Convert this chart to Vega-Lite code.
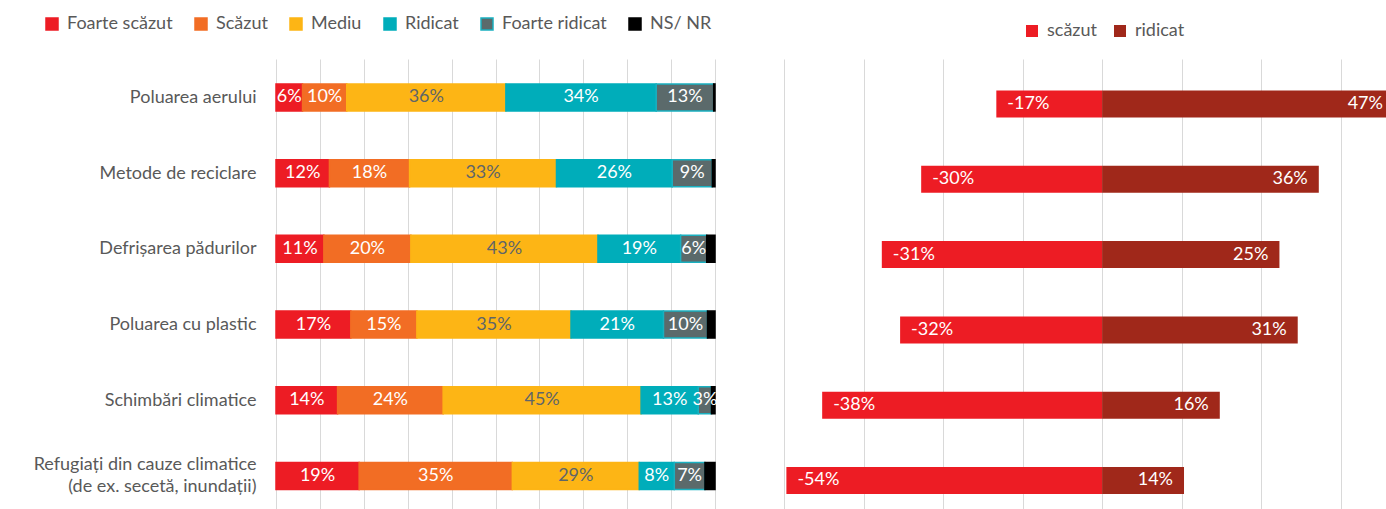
{
  "$schema": "https://vega.github.io/schema/vega-lite/v6.json",
  "padding": {"left": 33, "top": 15, "right": 0, "bottom": 0},
  "bounds": "flush",
  "spacing": 69,
  "config": {
    "view": {"stroke": null},
    "font": "Lato",
    "axis": {"gridColor": "#D9D9D9", "gridWidth": 1},
    "legend": {"padding": 0, "offset": 0}
  },
  "resolve": {
    "scale": {"color": "independent", "stroke": "independent", "x": "independent", "y": "independent"},
    "legend": {"color": "independent", "stroke": "independent"}
  },
  "hconcat": [
    {
      "width": 439,
      "height": 450,
      "data": {"values": [
        {"cat": "Poluarea aerului", "level": "Foarte scăzut", "k": 1, "value": 6},
        {"cat": "Poluarea aerului", "level": "Scăzut", "k": 2, "value": 10},
        {"cat": "Poluarea aerului", "level": "Mediu", "k": 3, "value": 36},
        {"cat": "Poluarea aerului", "level": "Ridicat", "k": 4, "value": 34},
        {"cat": "Poluarea aerului", "level": "Foarte ridicat", "k": 5, "value": 13},
        {"cat": "Poluarea aerului", "level": "NS/ NR", "k": 6, "value": 0.3},
        {"cat": "Metode de reciclare\u00a0", "level": "Foarte scăzut", "k": 1, "value": 12},
        {"cat": "Metode de reciclare\u00a0", "level": "Scăzut", "k": 2, "value": 18},
        {"cat": "Metode de reciclare\u00a0", "level": "Mediu", "k": 3, "value": 33},
        {"cat": "Metode de reciclare\u00a0", "level": "Ridicat", "k": 4, "value": 26},
        {"cat": "Metode de reciclare\u00a0", "level": "Foarte ridicat", "k": 5, "value": 9},
        {"cat": "Metode de reciclare\u00a0", "level": "NS/ NR", "k": 6, "value": 0.6},
        {"cat": "Defrișarea pădurilor", "level": "Foarte scăzut", "k": 1, "value": 11},
        {"cat": "Defrișarea pădurilor", "level": "Scăzut", "k": 2, "value": 20},
        {"cat": "Defrișarea pădurilor", "level": "Mediu", "k": 3, "value": 43},
        {"cat": "Defrișarea pădurilor", "level": "Ridicat", "k": 4, "value": 19},
        {"cat": "Defrișarea pădurilor", "level": "Foarte ridicat", "k": 5, "value": 6},
        {"cat": "Defrișarea pădurilor", "level": "NS/ NR", "k": 6, "value": 1.9},
        {"cat": "Poluarea cu plastic", "level": "Foarte scăzut", "k": 1, "value": 17},
        {"cat": "Poluarea cu plastic", "level": "Scăzut", "k": 2, "value": 15},
        {"cat": "Poluarea cu plastic", "level": "Mediu", "k": 3, "value": 35},
        {"cat": "Poluarea cu plastic", "level": "Ridicat", "k": 4, "value": 21},
        {"cat": "Poluarea cu plastic", "level": "Foarte ridicat", "k": 5, "value": 10},
        {"cat": "Poluarea cu plastic", "level": "NS/ NR", "k": 6, "value": 1.7},
        {"cat": "Schimbări climatice", "level": "Foarte scăzut", "k": 1, "value": 14},
        {"cat": "Schimbări climatice", "level": "Scăzut", "k": 2, "value": 24},
        {"cat": "Schimbări climatice", "level": "Mediu", "k": 3, "value": 45},
        {"cat": "Schimbări climatice", "level": "Ridicat", "k": 4, "value": 13},
        {"cat": "Schimbări climatice", "level": "Foarte ridicat", "k": 5, "value": 3},
        {"cat": "Schimbări climatice", "level": "NS/ NR", "k": 6, "value": 0.8},
        {"cat": "Refugiați din cauze climatice\u00a0|(de ex. secetă, inundații)", "level": "Foarte scăzut", "k": 1, "value": 19},
        {"cat": "Refugiați din cauze climatice\u00a0|(de ex. secetă, inundații)", "level": "Scăzut", "k": 2, "value": 35},
        {"cat": "Refugiați din cauze climatice\u00a0|(de ex. secetă, inundații)", "level": "Mediu", "k": 3, "value": 29},
        {"cat": "Refugiați din cauze climatice\u00a0|(de ex. secetă, inundații)", "level": "Ridicat", "k": 4, "value": 8},
        {"cat": "Refugiați din cauze climatice\u00a0|(de ex. secetă, inundații)", "level": "Foarte ridicat", "k": 5, "value": 7},
        {"cat": "Refugiați din cauze climatice\u00a0|(de ex. secetă, inundații)", "level": "NS/ NR", "k": 6, "value": 2.3}
      ]},
      "transform": [
        {"stack": "value", "groupby": ["cat"], "sort": [{"field": "k"}], "offset": "normalize", "as": ["v0", "v1"]},
        {"calculate": "(datum.v0 + datum.v1) / 2", "as": "mid"},
        {"calculate": "datum.value + '%'", "as": "lbl"}
      ],
      "encoding": {
        "y": {
          "field": "cat", "type": "nominal", "sort": null,
          "scale": {"type": "point", "padding": 0.472, "align": 0.538},
          "axis": {
            "title": null, "ticks": false, "domain": false, "grid": false,
            "labelPadding": 20, "labelFontSize": 18, "labelColor": "#595959",
            "labelFont": "Lato", "labelLimit": 400, "labelLineHeight": 22,
            "labelOffset": {"condition": {"test": "indexof(datum.value, '|') >= 0", "value": -11}, "value": 0},
            "labelExpr": "split(datum.label, '|')"
          }
        }
      },
      "layer": [
        {
          "mark": {"type": "bar", "size": 27, "strokeWidth": 1.5},
          "encoding": {
            "x": {
              "field": "v0", "type": "quantitative",
              "scale": {"domain": [0, 1], "nice": false},
              "axis": {"title": null, "labels": false, "ticks": false, "domain": false, "grid": true,
                       "values": [0, 0.1, 0.2, 0.3, 0.4, 0.5, 0.6, 0.7, 0.8, 0.9, 1]}
            },
            "x2": {"field": "v1"},
            "color": {
              "field": "level", "type": "nominal",
              "scale": {
                "domain": ["Foarte scăzut", "Scăzut", "Mediu", "Ridicat", "Foarte ridicat", "NS/ NR"],
                "range": ["#ED1C24", "#F26D24", "#FDB515", "#00ADBA", "#5B6A6B", "#000000"]
              },
              "legend": {"title": null, "orient": "none", "legendX": -233, "legendY": -44, "direction": "horizontal",
                         "symbolType": "square", "symbolSize": 144, "symbolStrokeWidth": 1.5,
                         "labelFontSize": 18, "labelFont": "Lato", "labelColor": "#595959",
                         "labelOffset": 6, "columnPadding": 19}
            },
            "stroke": {
              "field": "level", "type": "nominal",
              "scale": {
                "domain": ["Foarte scăzut", "Scăzut", "Mediu", "Ridicat", "Foarte ridicat", "NS/ NR"],
                "range": ["#ED1C24", "#F26D24", "#FDB515", "#00ADBA", "#1AB0C0", "#000000"]
              },
              "legend": {"title": null, "orient": "none", "legendX": -233, "legendY": -44, "direction": "horizontal",
                         "symbolType": "square", "symbolSize": 144, "symbolStrokeWidth": 1.5,
                         "labelFontSize": 18, "labelFont": "Lato", "labelColor": "#595959",
                         "labelOffset": 6, "columnPadding": 19}
            }
          }
        },
        {
          "transform": [{"filter": "datum.level !== 'NS/ NR'"}],
          "mark": {"type": "text", "fontSize": 18, "baseline": "middle", "align": "center", "font": "Lato"},
          "encoding": {
            "x": {"field": "mid", "type": "quantitative"},
            "text": {"field": "lbl"},
            "color": {"condition": {"test": "datum.level === 'Mediu'", "value": "#5F6569"}, "value": "#FFFFFF"}
          }
        }
      ]
    },
    {
      "width": 602,
      "height": 450,
      "data": {"values": [
        {"cat": "Poluarea aerului", "type": "scăzut", "share": -26.6, "pct": -17},
        {"cat": "Poluarea aerului", "type": "ridicat", "share": 73.4, "pct": 47},
        {"cat": "Metode de reciclare\u00a0", "type": "scăzut", "share": -45.5, "pct": -30},
        {"cat": "Metode de reciclare\u00a0", "type": "ridicat", "share": 54.5, "pct": 36},
        {"cat": "Defrișarea pădurilor", "type": "scăzut", "share": -55.4, "pct": -31},
        {"cat": "Defrișarea pădurilor", "type": "ridicat", "share": 44.6, "pct": 25},
        {"cat": "Poluarea cu plastic", "type": "scăzut", "share": -50.8, "pct": -32},
        {"cat": "Poluarea cu plastic", "type": "ridicat", "share": 49.2, "pct": 31},
        {"cat": "Schimbări climatice", "type": "scăzut", "share": -70.4, "pct": -38},
        {"cat": "Schimbări climatice", "type": "ridicat", "share": 29.6, "pct": 16},
        {"cat": "Refugiați din cauze climatice\u00a0|(de ex. secetă, inundații)", "type": "scăzut", "share": -79.4, "pct": -54},
        {"cat": "Refugiați din cauze climatice\u00a0|(de ex. secetă, inundații)", "type": "ridicat", "share": 20.6, "pct": 14}
      ]},
      "transform": [{"calculate": "datum.pct + '%'", "as": "lbl"}],
      "encoding": {
        "y": {
          "field": "cat", "type": "nominal", "sort": null,
          "scale": {"type": "point", "padding": 0.488, "align": 0.612},
          "axis": null
        }
      },
      "layer": [
        {
          "mark": {"type": "bar", "size": 27, "clip": true},
          "encoding": {
            "x": {
              "field": "share", "type": "quantitative",
              "scale": {"domain": [-80, 71.4], "nice": false, "zero": false},
              "axis": {"title": null, "labels": false, "ticks": false, "domain": false, "grid": true,
                       "values": [-80, -60, -40, -20, 0, 20, 40, 60]}
            },
            "color": {
              "field": "type", "type": "nominal",
              "scale": {"domain": ["scăzut", "ridicat"], "range": ["#ED1C24", "#A0281A"]},
              "legend": {"title": null, "orient": "none", "legendX": 239, "legendY": -37, "direction": "horizontal",
                         "symbolType": "square", "symbolSize": 144, "symbolStrokeWidth": 0,
                         "labelFontSize": 18, "labelFont": "Lato", "labelColor": "#595959",
                         "labelOffset": 6, "columnPadding": 14}
            }
          }
        },
        {
          "transform": [{"filter": "datum.share < 0"}],
          "mark": {"type": "text", "fontSize": 18, "baseline": "middle", "align": "left", "dx": 11, "color": "#FFFFFF", "font": "Lato"},
          "encoding": {
            "x": {"field": "share", "type": "quantitative"},
            "text": {"field": "lbl"}
          }
        },
        {
          "transform": [{"filter": "datum.share > 0"}],
          "mark": {"type": "text", "fontSize": 18, "baseline": "middle", "align": "right", "dx": -11, "color": "#FFFFFF", "font": "Lato"},
          "encoding": {
            "x": {"field": "share", "type": "quantitative"},
            "text": {"field": "lbl"}
          }
        }
      ]
    }
  ]
}
